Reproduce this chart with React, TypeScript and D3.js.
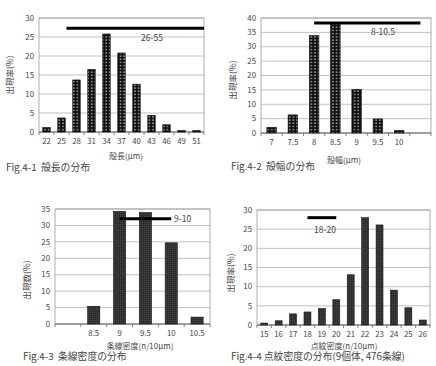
import React from 'react';
import * as d3 from 'd3';

// Fig.4-1 shell length
const lengthCats = ['22', '25', '28', '31', '34', '37', '40', '43', '46', '49', '51'];
const lengthVals = [1.2, 3.7, 13.7, 16.5, 25.8, 20.8, 12.6, 4.4, 1.9, 0.4, 0.4];
const lengthRange = [26, 55];

// Fig.4-2 shell width
const widthCats = ['7', '7.5', '8', '8.5', '9', '9.5', '10', ''];
const widthVals = [2.0, 6.3, 33.9, 37.8, 15.1, 4.9, 0.9, 0];
const widthRange = [8, 10.5];

// Fig.4-3 striae density
const striaeCats = ['', '8.5', '9', '9.5', '10', '10.5'];
const striaeVals = [0, 5.4, 34.3, 33.9, 24.7, 2.1];
const striaeRange = [9, 10];

// Fig.4-4 areolae density
const areolaeCats = ['15', '16', '17', '18', '19', '20', '21', '22', '23', '24', '25', '26'];
const areolaeVals = [0.5, 1.1, 2.9, 3.4, 4.3, 6.6, 13.1, 28.0, 26.1, 9.1, 4.5, 1.3];
const areolaeRange = [18, 20];

const FONT = '"Noto Sans CJK JP", "Noto Sans", sans-serif';
const TXT = '#444';

type PanelProps = {
  cats: string[];
  vals: number[];
  range: number[];
  rangeVal: number;
  rangeLabel: string;
  labelX: number;
  labelV: number;
  labelAnchor?: string;
  yMax: number;
  box: { l: number; r: number; t: number; b: number };
  pad: number;
  fill: string;
  yLabel: string;
  yLabelX: number;
  yLabelY: number;
  xTitle: string;
  xTitleX: number;
  xTitleY: number;
  caption: string;
  capX: number;
  capY: number;
};

function Panel(p: PanelProps) {
  const { l, r, t, b } = p.box;
  const x = d3.scaleBand<string>()
    .domain(p.cats.map((c, i) => i + ':' + c))
    .range([l, r])
    .paddingInner(p.pad)
    .paddingOuter(p.pad / 2);
  const y = d3.scaleLinear().domain([0, p.yMax]).range([b, t]);
  const keys = x.domain();
  const step = x.step();
  const center = (k: string) => (x(k) as number) + x.bandwidth() / 2;

  // value -> x for the range bar (piecewise over labelled categories)
  const numeric = keys.filter((k, i) => p.cats[i] !== '');
  const rx = d3.scaleLinear()
    .domain(numeric.map((k) => +k.split(':')[1]))
    .range(numeric.map((k) => center(k)));
  const x1 = Math.max(l, Math.min(r, rx(p.range[0])));
  const x2 = Math.max(l, Math.min(r, rx(p.range[1])));

  const ticks = d3.range(0, p.yMax + 0.001, 5);

  return (
    <g fontFamily={FONT} fill={TXT}>
      {ticks.map((v) => (
        <g key={v}>
          <line x1={l} x2={r} y1={y(v)} y2={y(v)} stroke="#b0b0b0" strokeWidth={0.8} />
          <text x={l - 5} y={y(v)} dy="0.35em" fontSize={7.8} textAnchor="end">{v}</text>
        </g>
      ))}
      <rect x={l} y={t} width={r - l} height={b - t} fill="none" stroke="#999" strokeWidth={0.8} />
      <line x1={l} x2={r} y1={b} y2={b} stroke="#666" strokeWidth={0.8} />
      {d3.range(keys.length + 1).map((i) => (
        <line key={i} x1={l + i * step} x2={l + i * step} y1={b} y2={b + 3} stroke="#666" strokeWidth={0.8} />
      ))}
      {keys.map((k, i) =>
        p.vals[i] > 0 ? (
          <rect key={k} x={x(k)} y={y(p.vals[i])} width={x.bandwidth()} height={b - y(p.vals[i])}
            fill={p.fill} stroke="#111" strokeWidth={0.6} />
        ) : null
      )}
      {keys.map((k, i) => (
        <text key={k} x={center(k)} y={b + 12} fontSize={7.8} textAnchor="middle">{p.cats[i]}</text>
      ))}
      <line x1={x1} x2={x2} y1={y(p.rangeVal)} y2={y(p.rangeVal)} stroke="#000" strokeWidth={3} />
      <text x={p.labelX} y={y(p.labelV)} dy="0.35em" fontSize={8.5} textAnchor={p.labelAnchor || 'middle'}>{p.rangeLabel}</text>
      <text transform={`translate(${p.yLabelX},${p.yLabelY}) rotate(-90)`} fontSize={8.5} textAnchor="middle" dy="0.35em">{p.yLabel}</text>
      <text x={p.xTitleX} y={p.xTitleY} dy="0.35em" fontSize={8} textAnchor="middle">{p.xTitle}</text>
      <text x={p.capX} y={p.capY} dy="0.35em" fontSize={9.8} style={{ whiteSpace: 'pre' }}>{p.caption}</text>
    </g>
  );
}

export default function App() {
  return (
    <svg width={436} height={366} style={{ position: 'absolute', left: 0, top: 0, background: '#fff' }}>
      <defs>
        <pattern id="dots" width={3.6} height={3.2} patternUnits="userSpaceOnUse">
          <rect width={3.6} height={3.2} fill="#111" />
          <circle cx={1.8} cy={1.6} r={0.7} fill="#fff" />
        </pattern>
        <pattern id="fine" width={2} height={2} patternUnits="userSpaceOnUse">
          <rect width={2} height={2} fill="#2e2e2e" />
          <rect width={1} height={1} fill="#474747" />
        </pattern>
      </defs>
      <Panel cats={lengthCats} vals={lengthVals} range={lengthRange} rangeVal={27.3}
        rangeLabel="26-55" labelX={152} labelV={24.8} yMax={30}
        box={{ l: 39, r: 204, t: 18, b: 132 }} pad={0.5} fill="url(#dots)"
        yLabel="出現率(%)" yLabelX={10} yLabelY={75}
        xTitle="殻長(μm)" xTitleX={126} xTitleY={156}
        caption="Fig.4-1  殻長の分布" capX={6} capY={168} />
      <Panel cats={widthCats} vals={widthVals} range={widthRange} rangeVal={38.3}
        rangeLabel="8-10.5" labelX={383} labelV={35} yMax={40}
        box={{ l: 261, r: 431, t: 18, b: 133 }} pad={0.55} fill="url(#dots)"
        yLabel="出現率(%)" yLabelX={233} yLabelY={80}
        xTitle="殻幅(μm)" xTitleX={344} xTitleY={160}
        caption="Fig.4-2  殻幅の分布" capX={231} capY={167} />
      <Panel cats={striaeCats} vals={striaeVals} range={striaeRange} rangeVal={32}
        rangeLabel="9-10" labelX={174} labelV={32} labelAnchor="start" yMax={35}
        box={{ l: 55, r: 210, t: 209, b: 324 }} pad={0.53} fill="url(#fine)"
        yLabel="出現数(%)" yLabelX={27} yLabelY={280}
        xTitle="条線密度(n/10μm)" xTitleX={140} xTitleY={346}
        caption="Fig.4-3  条線密度の分布" capX={23} capY={357} />
      <Panel cats={areolaeCats} vals={areolaeVals} range={areolaeRange} rangeVal={28}
        rangeLabel="18-20" labelX={325} labelV={24.8} yMax={30}
        box={{ l: 257, r: 430, t: 210, b: 325 }} pad={0.52} fill="url(#fine)"
        yLabel="出現率(%)" yLabelX={231} yLabelY={273}
        xTitle="点紋密度(n/10μm)" xTitleX={344} xTitleY={346}
        caption="Fig.4-4 点紋密度の分布(9個体, 476条線)" capX={231} capY={357} />
    </svg>
  );
}
